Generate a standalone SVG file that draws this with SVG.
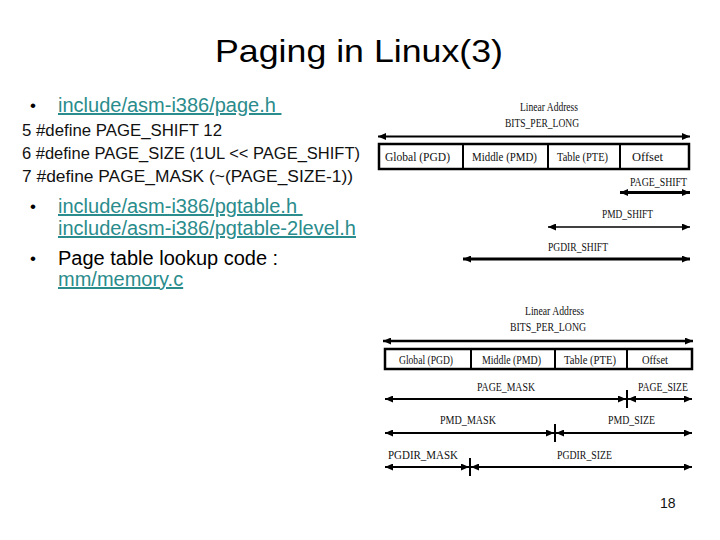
<svg xmlns="http://www.w3.org/2000/svg" width="720" height="540" viewBox="0 0 720 540">
<style>
.title{font-family:"Liberation Sans",Arial,sans-serif;font-size:32px;fill:#000}
.link{font-family:"Liberation Sans",Arial,sans-serif;font-size:20px;fill:#2A8C8C;text-decoration:underline}
.body{font-family:"Liberation Sans",Arial,sans-serif;font-size:20px;fill:#000}
.bul{font-family:"Liberation Sans",Arial,sans-serif;font-size:17px;fill:#000}
.code{font-family:"Liberation Sans",Arial,sans-serif;font-size:16px;fill:#111}
.lbl{font-family:"Liberation Serif","Times New Roman",serif;font-size:12px;fill:#111}
.box{fill:#fff;stroke:#000;stroke-width:2.5}
.div{stroke:#000;stroke-width:2}
.arr{stroke:#000;fill:none;marker-start:url(#ah);marker-end:url(#ah)}
.tick{stroke:#000;stroke-width:2}
</style>
<defs>
<marker id="ah" viewBox="0 0 8 7" refX="8" refY="3.5" markerWidth="8" markerHeight="7" markerUnits="userSpaceOnUse" orient="auto-start-reverse">
<path d="M0,0 L8,3.5 L0,7 z" fill="#000"/>
</marker>
</defs>
<rect width="720" height="540" fill="#fff"/>

<g id="title"><text class="title" x="215" y="62" textLength="288" lengthAdjust="spacingAndGlyphs">Paging in Linux(3)</text></g>

<g id="text-left">
<text class="bul" x="30" y="111">•</text>
<text class="link" x="58" y="112" xml:space="preserve">include/asm-i386/page.h </text>
<text class="code" x="22" y="136" textLength="200" lengthAdjust="spacingAndGlyphs">5 #define PAGE_SHIFT 12</text>
<text class="code" x="22" y="159" textLength="338" lengthAdjust="spacingAndGlyphs">6 #define PAGE_SIZE (1UL &lt;&lt; PAGE_SHIFT)</text>
<text class="code" x="22" y="182" textLength="331" lengthAdjust="spacingAndGlyphs">7 #define PAGE_MASK (~(PAGE_SIZE-1))</text>
<text class="bul" x="30" y="212">•</text>
<text class="link" x="58" y="213" xml:space="preserve">include/asm-i386/pgtable.h </text>
<text class="link" x="58" y="235">include/asm-i386/pgtable-2level.h</text>
<text class="bul" x="30" y="264">•</text>
<text class="body" x="58" y="265">Page table lookup code :</text>
<text class="link" x="58" y="286">mm/memory.c</text>
</g>

<g id="diagram-top">
<text class="lbl" x="520" y="111" textLength="58" lengthAdjust="spacingAndGlyphs">Linear Address</text>
<text class="lbl" x="505" y="127" textLength="74" lengthAdjust="spacingAndGlyphs">BITS_PER_LONG</text>
<g id="top-address-box">
<rect class="box" x="379" y="144" width="310" height="25"/>
<line class="div" x1="463" y1="144" x2="463" y2="169"/>
<line class="div" x1="548" y1="144" x2="548" y2="169"/>
<line class="div" x1="620" y1="144" x2="620" y2="169"/>
<text class="lbl" x="385" y="161" textLength="65" lengthAdjust="spacingAndGlyphs">Global (PGD)</text>
<text class="lbl" x="472" y="161" textLength="65" lengthAdjust="spacingAndGlyphs">Middle (PMD)</text>
<text class="lbl" x="557" y="161" textLength="51" lengthAdjust="spacingAndGlyphs">Table (PTE)</text>
<text class="lbl" x="632" y="161" textLength="31" lengthAdjust="spacingAndGlyphs">Offset</text>
</g>
<text class="lbl" x="630" y="186" textLength="57" lengthAdjust="spacingAndGlyphs">PAGE_SHIFT</text>
<text class="lbl" x="602" y="218" textLength="51" lengthAdjust="spacingAndGlyphs">PMD_SHIFT</text>
<text class="lbl" x="548" y="251" textLength="60" lengthAdjust="spacingAndGlyphs">PGDIR_SHIFT</text>
</g>

<g id="diagram-bottom">
<text class="lbl" x="525" y="315" textLength="59" lengthAdjust="spacingAndGlyphs">Linear Address</text>
<text class="lbl" x="510" y="331" textLength="76" lengthAdjust="spacingAndGlyphs">BITS_PER_LONG</text>
<g id="bottom-address-box">
<rect class="box" x="385" y="349" width="307" height="20"/>
<line class="div" x1="471" y1="349" x2="471" y2="369"/>
<line class="div" x1="555" y1="349" x2="555" y2="369"/>
<line class="div" x1="627" y1="349" x2="627" y2="369"/>
<text class="lbl" x="399" y="364" textLength="54" lengthAdjust="spacingAndGlyphs">Global (PGD)</text>
<text class="lbl" x="482" y="364" textLength="59" lengthAdjust="spacingAndGlyphs">Middle (PMD)</text>
<text class="lbl" x="564" y="364" textLength="52" lengthAdjust="spacingAndGlyphs">Table (PTE)</text>
<text class="lbl" x="642" y="364" textLength="26" lengthAdjust="spacingAndGlyphs">Offset</text>
</g>
<text class="lbl" x="477" y="391" textLength="58" lengthAdjust="spacingAndGlyphs">PAGE_MASK</text>
<text class="lbl" x="638" y="391" textLength="50" lengthAdjust="spacingAndGlyphs">PAGE_SIZE</text>
<text class="lbl" x="440" y="424" textLength="56" lengthAdjust="spacingAndGlyphs">PMD_MASK</text>
<text class="lbl" x="608" y="424" textLength="47" lengthAdjust="spacingAndGlyphs">PMD_SIZE</text>
<text class="lbl" x="388" y="459" textLength="70" lengthAdjust="spacingAndGlyphs">PGDIR_MASK</text>
<text class="lbl" x="557" y="459" textLength="55" lengthAdjust="spacingAndGlyphs">PGDIR_SIZE</text>
</g>

<g id="connectors">
<line class="arr" x1="378" y1="136.5" x2="690" y2="136.5" stroke-width="2"/>
<line class="arr" x1="620" y1="192.5" x2="690" y2="192.5" stroke-width="3"/>
<line class="arr" x1="548" y1="227" x2="690" y2="227" stroke-width="1.5"/>
<line class="arr" x1="463" y1="259" x2="690" y2="259" stroke-width="3"/>

<line class="arr" x1="383" y1="341" x2="693" y2="341" stroke-width="2.5"/>
<line class="arr" x1="385" y1="399" x2="626" y2="399" stroke-width="2"/>
<line class="arr" x1="628" y1="399" x2="692" y2="399" stroke-width="2"/>
<line class="tick" x1="627" y1="390" x2="627" y2="408"/>
<line class="arr" x1="385" y1="433" x2="554" y2="433" stroke-width="2"/>
<line class="arr" x1="556" y1="433" x2="692" y2="433" stroke-width="2"/>
<line class="tick" x1="555" y1="424" x2="555" y2="442"/>
<line class="arr" x1="385" y1="467" x2="469" y2="467" stroke-width="2"/>
<line class="arr" x1="471" y1="467" x2="692" y2="467" stroke-width="2"/>
<line class="tick" x1="470" y1="458" x2="470" y2="476"/>
</g>

<g id="page-number"><text class="code" x="660" y="508" style="font-size:14px">18</text></g>
</svg>
